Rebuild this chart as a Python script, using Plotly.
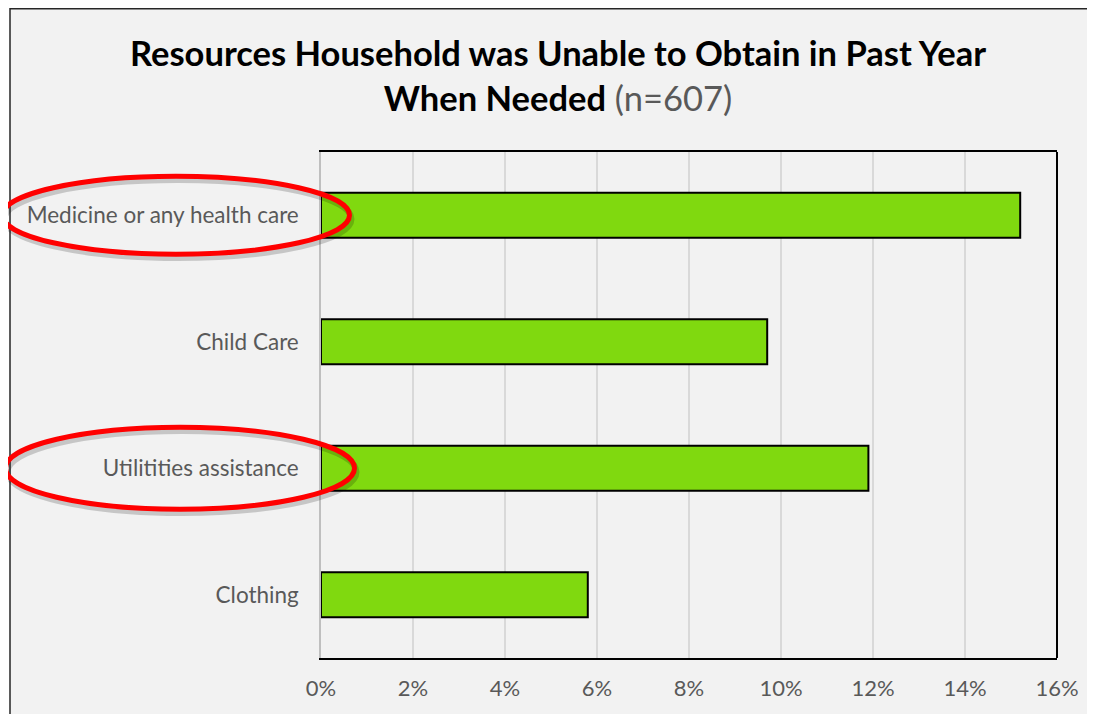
import plotly.graph_objects as go

categories = ["Medicine or any health care", "Child Care", "Utilitities assistance", "Clothing"]
values = [0.152, 0.097, 0.119, 0.058]
x_ticks = [0, 0.02, 0.04, 0.06, 0.08, 0.10, 0.12, 0.14, 0.16]
x_tick_labels = ["0%", "2%", "4%", "6%", "8%", "10%", "12%", "14%", "16%"]
highlighted = ["Medicine or any health care", "Utilitities assistance"]

OFF = 8  # page body margin
W, H = 1095 - OFF, 714 - OFF
L, R, T, B = 321 - OFF, 38, 152 - OFF, 56
pw, ph = W - L - R, H - T - B

def px_x(px):
    # page pixel -> paper x
    return (px - OFF - L) / pw

def px_y(py):
    # page pixel -> paper y
    return (H - B - (py - OFF)) / ph

fig = go.Figure()
fig.add_trace(go.Bar(
    y=categories, x=values, orientation="h",
    marker=dict(color="#80d90f", line=dict(color="#000000", width=2)),
    hoverinfo="x+y",
))

shapes = []
shapes.append(dict(type="rect", xref="paper", yref="paper", layer="below",
                   x0=px_x(10), x1=px_x(1130), y0=px_y(740), y1=px_y(8.8),
                   fillcolor="#f2f2f2", line=dict(color="#262626", width=1.5)))
shapes.append(dict(type="line", xref="paper", yref="paper", x0=1, x1=1, y0=0, y1=1,
                   line=dict(color="#000000", width=2)))

ell = {
    "Medicine or any health care": (2.5, 349.5, 0.308),
    "Utilitities assistance": (5.5, 354.5, 0.324),
}
for cat in highlighted:
    idx = categories.index(cat)
    xa, xb, hh = ell[cat]
    shapes.append(dict(type="circle", xref="paper", yref="y",
                       x0=px_x(xa + 2), x1=px_x(xb + 2), y0=idx - hh + 0.03, y1=idx + hh + 0.03,
                       line=dict(color="rgba(0,0,0,0.18)", width=6)))
    shapes.append(dict(type="circle", xref="paper", yref="y",
                       x0=px_x(xa), x1=px_x(xb), y0=idx - hh, y1=idx + hh,
                       line=dict(color="#ff0000", width=5)))

annotations = [dict(
    text="<b>Resources Household was Unable to Obtain in Past Year</b><br><b>When Needed</b> <span style='color:#595959'>(n=607)</span>",
    font=dict(family="Lato, sans-serif", size=34.5, color="#000000"),
    xref="paper", yref="paper", x=px_x(558), y=px_y(75),
    xanchor="center", yanchor="middle", showarrow=False, align="center",
)]

fig.update_layout(
    width=W, height=H,
    margin=dict(l=L, r=R, t=T, b=B, pad=0),
    paper_bgcolor="#ffffff",
    plot_bgcolor="rgba(0,0,0,0)",
    font=dict(family="Lato, Open Sans, sans-serif", color="#595959", size=22),
    showlegend=False,
    bargap=0.644,
    shapes=shapes,
    annotations=annotations,
    xaxis=dict(
        range=[0, 0.16], tickvals=x_ticks, ticktext=x_tick_labels,
        showgrid=True, gridcolor="#d9d9d9", gridwidth=1.5,
        showline=True, linecolor="#000000", linewidth=2, mirror=True,
        zeroline=False, ticks="", ticklabelstandoff=10,
        tickfont=dict(size=22, color="#595959"),
    ),
    yaxis=dict(
        autorange="reversed",
        showgrid=False, showline=True, linecolor="#bfbfbf", linewidth=1.5,
        ticks="", ticklabelstandoff=16,
        tickfont=dict(size=22.5, color="#595959"),
    ),
)

fig.write_html("out.html")
